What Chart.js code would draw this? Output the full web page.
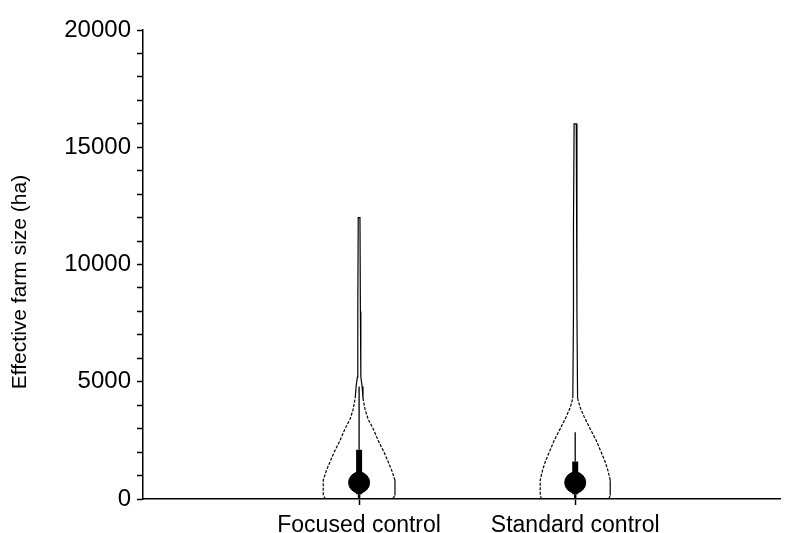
<!DOCTYPE html>
<html>
    <head>
        <title> Effective farm size </title>
        <script src = "https://cdn.jsdelivr.net/npm/chart.js"> </script>
        <style>
            body { margin: 0; background: #fff; }
            #box { width: 792px; height: 533px; }
        </style>
    </head>

    <body onload = "createChart()">

            <div id="box">
                <canvas id="myChart"></canvas>
            </div>

            <script>
                // categories sit at x = 1 and x = 2 on a linear axis
                const categories = ['Focused control', 'Standard control'];
                const yLabels = [0, 5000, 10000, 15000, 20000];

                // violin outline: value levels and half widths (category units)
                const focusedLevels = [0, 150, 800, 1200, 1600, 2000, 2500, 3000, 3400, 3800, 4300, 4800, 5200, 8000, 12000];
                const focusedWidth  = [0.155, 0.166, 0.166, 0.152, 0.134, 0.115, 0.088, 0.065, 0.042, 0.028, 0.018, 0.014, 0.008, 0.006, 0.004];
                const standardLevels = [0, 150, 800, 1200, 1600, 2000, 2500, 3000, 3500, 3900, 4300, 8000, 11600, 16000];
                const standardWidth  = [0.155, 0.162, 0.162, 0.152, 0.138, 0.120, 0.097, 0.069, 0.042, 0.023, 0.011, 0.008, 0.008, 0.005];

                // inner box plot
                const medians = [700, 700];
                const q1 = [200, 200];
                const q3 = [2100, 1600];
                const whiskerTop = [4800, 2850];

                function outline(center, levels, widths) {
                    const pts = [];
                    for (let i = 0; i < levels.length; i++) pts.push({x: center - widths[i], y: levels[i]});
                    for (let i = levels.length - 1; i >= 0; i--) pts.push({x: center + widths[i], y: levels[i]});
                    return pts;
                }

                function createChart() {
                    const ctx = document.getElementById('myChart');
                    const font = 'Liberation Sans, Arial, sans-serif';
                    const line = (data, w) => ({
                        data: data, showLine: true, borderColor: '#000', borderWidth: w,
                        pointRadius: 0, fill: false
                    });
                    // dotted outline on the body, solid on the thin neck
                    const violin = (data) => Object.assign(line(data, 1.2), {
                        segment: {
                            borderDash: (c) => Math.min(c.p0.parsed.y, c.p1.parsed.y) >= 4300 ? [] : [3, 1.5]
                        }
                    });

                    const datasets = [
                        violin(outline(1, focusedLevels, focusedWidth)),
                        violin(outline(2, standardLevels, standardWidth))
                    ];
                    for (let i = 0; i < categories.length; i++) {
                        const c = i + 1;
                        datasets.push(line([{x: c, y: q3[i]}, {x: c, y: whiskerTop[i]}], 1.3));
                        datasets.push(line([{x: c, y: q1[i]}, {x: c, y: q3[i]}], 6));
                        datasets.push(line([{x: c, y: 0}, {x: c, y: q1[i]}], 2.5));
                    }
                    datasets.push({
                        data: medians.map((m, i) => ({x: i + 1, y: m})),
                        pointRadius: 10.5, pointStyle: 'circle',
                        backgroundColor: '#000', borderColor: '#000', showLine: false
                    });

                    Chart.defaults.font.family = font;
                    Chart.defaults.color = '#000';

                    new Chart(ctx, {
                        type: 'scatter',
                        data: { datasets: datasets },
                        options: {
                            responsive: true,
                            maintainAspectRatio: false,
                            animation: false,
                            layout: { padding: { top: 30, right: 10, left: 0, bottom: 0 } },
                            plugins: { legend: { display: false }, tooltip: { enabled: false } },
                            scales: {
                                x: {
                                    type: 'linear', min: 0, max: 2.95,
                                    afterBuildTicks: (s) => { s.ticks = categories.map((c, i) => ({value: i + 1})); },
                                    afterFit: (s) => { s.height = 34; },
                                    ticks: {
                                        callback: (v) => categories[v - 1] || '',
                                        font: { size: 23 }, padding: 7, maxRotation: 0, autoSkip: false
                                    },
                                    grid: { drawOnChartArea: false, tickLength: 6, tickColor: '#000', tickWidth: 1.5 },
                                    border: { color: '#000', width: 1.5 }
                                },
                                y: {
                                    min: 0, max: 20000,
                                    afterFit: (s) => { s.width = 143; },
                                    ticks: {
                                        stepSize: 1000, autoSkip: false, padding: 6,
                                        font: { size: 24 },
                                        callback: (v) => yLabels.includes(v) ? String(v) : ''
                                    },
                                    grid: { drawOnChartArea: false, tickLength: 6, tickColor: '#000', tickWidth: 1.5 },
                                    border: { color: '#000', width: 1.5 },
                                    title: {
                                        display: true, text: 'Effective farm size (ha)      ',
                                        font: { size: 21 }, padding: { top: 8, bottom: 0 }
                                    }
                                }
                            }
                        }
                    });
                }
            </script>

    </body>
</html>
